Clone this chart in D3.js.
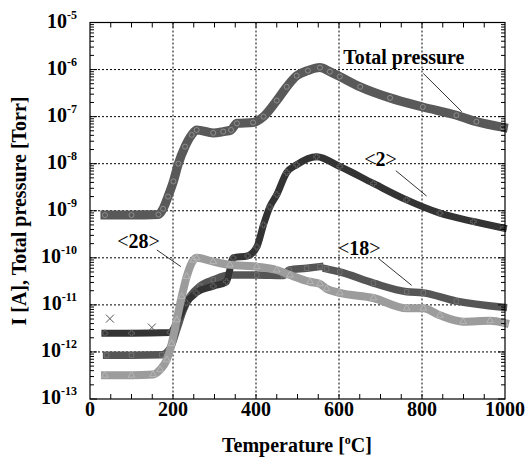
<html>
<style>
  body { margin: 0; background: #fff; }
  text { font-family: "Liberation Serif", "Times New Roman", serif; font-weight: bold; fill: #000; }
</style>
<body>
<script src="https://d3js.org/d3.v7.min.js" charset="utf-8"></script>
<svg id="chart" width="528" height="468"></svg>
<script>
// values: temperature [C] and current / pressure
var tempTotal = [36, 100, 165, 176, 188, 201, 213, 229, 245, 257, 297, 321, 340, 354, 393, 418, 450, 474, 498, 525, 554, 578, 602, 651, 723, 802, 883, 931, 996];
var totalPressure = [8.1e-10, 8.1e-10, 8.3e-10, 1.1e-9, 2.0e-9, 4.2e-9, 1.0e-8, 2.3e-8, 4.1e-8, 5.2e-8, 4.5e-8, 4.8e-8, 5.2e-8, 7.2e-8, 7.5e-8, 1.0e-7, 2.2e-7, 4.3e-7, 7.4e-7, 9.5e-7, 1.1e-6, 9.0e-7, 7.1e-7, 4.3e-7, 2.5e-7, 1.6e-7, 1.07e-7, 7.8e-8, 5.9e-8];

var tempM2 = [36, 100, 193, 212, 232, 256, 297, 329, 345, 380, 402, 418, 433, 450, 474, 498, 546, 602, 683, 763, 843, 924, 996];
var ionM2 = [2.5e-12, 2.5e-12, 2.6e-12, 4.8e-12, 1.1e-11, 1.8e-11, 2.5e-11, 3.1e-11, 1.0e-10, 1.1e-10, 1.7e-10, 5.0e-10, 1.2e-9, 2.2e-9, 6.5e-9, 9.5e-9, 1.4e-8, 8.7e-9, 3.8e-9, 1.7e-9, 8.9e-10, 5.9e-10, 4.3e-10];
// stray points of <2> at low temperature
var tempM2Stray = [48, 149];
var ionM2Stray = [5.1e-12, 3.3e-12];

// null = gap in the record
var tempM18 = [40, 100, 173, 193, 209, 225, 241, 265, 297, 337, 402, 466, 480, 522, 554, 562, 570, 602, 683, 763, 803, 883, 996];
var ionM18 = [8.5e-13, 8.5e-13, 8.7e-13, 1.2e-12, 3.0e-12, 7.8e-12, 1.5e-11, 2.5e-11, 3.4e-11, 4.3e-11, 4.3e-11, 4.2e-11, 5.5e-11, 6.0e-11, 6.5e-11, null, 5.8e-11, 5.0e-11, 2.9e-11, 1.9e-11, 1.8e-11, 1.2e-11, 8.9e-12];

var tempM28 = [36, 100, 152, 169, 185, 197, 209, 221, 233, 249, 257, 297, 337, 402, 450, 482, 530, 554, 570, 602, 683, 763, 803, 843, 899, 964, 1000];
var ionM28 = [3.2e-13, 3.2e-13, 3.3e-13, 4.2e-13, 6.8e-13, 1.5e-12, 4.8e-12, 1.5e-11, 4.0e-11, 8.9e-11, 1.0e-10, 8.3e-11, 7.1e-11, 6.5e-11, 5.5e-11, 4.3e-11, 3.1e-11, 2.8e-11, 2.2e-11, 1.8e-11, 1.4e-11, 8.5e-12, 8.5e-12, 6.0e-12, 4.4e-12, 4.6e-12, 4.1e-12];

var xTicks = [0, 200, 400, 600, 800, 1000];
var yExponents = [-5, -6, -7, -8, -9, -10, -11, -12, -13];

// labels with leader lines, in data coordinates
var notes = [
  { text: "Total pressure", t: 610, v: 1.31e-6, anchor: "start", from: [803, 8.3e-7], to: [896, 1.27e-7] },
  { text: "2", t: 700, v: 8.9e-9, anchor: "middle", from: [737, 7.1e-9], to: [811, 2.06e-9] },
  { text: "28", t: 117, v: 1.6e-10, anchor: "middle", from: [161, 1.47e-10], to: [219, 6.5e-11] },
  { text: "18", t: 649, v: 1.17e-10, anchor: "middle", from: [695, 9.7e-11], to: [775, 2.6e-11] }
];

var svg = d3.select("#chart");
svg.append("rect").attr("width", 528).attr("height", 468).attr("fill", "#fff");

var x = d3.scaleLinear().domain([0, 1000]).range([90, 505]);
var y = d3.scaleLog().domain([1e-13, 1e-5]).range([399, 22.5]);

// dotted grid
svg.selectAll(".gx").data([200, 400, 600, 800]).enter().append("line")
  .attr("x1", function(d) { return x(d); }).attr("x2", function(d) { return x(d); })
  .attr("y1", y(1e-5)).attr("y2", y(1e-13))
  .attr("stroke", "#000").attr("stroke-width", 1).attr("stroke-dasharray", "2,2");
svg.selectAll(".gy").data([-6, -7, -8, -9, -10, -11, -12]).enter().append("line")
  .attr("x1", x(0)).attr("x2", x(1000))
  .attr("y1", function(d) { return y(Math.pow(10, d)); }).attr("y2", function(d) { return y(Math.pow(10, d)); })
  .attr("stroke", "#000").attr("stroke-width", 1).attr("stroke-dasharray", "2,2");

// series
var plot = svg.append("g");
function drawSeries(temps, vals, color, width, symType, markColor) {
  var pts = temps.map(function(t, i) { return [t, vals[i]]; });
  var line = d3.line()
    .defined(function(d) { return d[1] != null; })
    .x(function(d) { return x(d[0]); })
    .y(function(d) { return y(d[1]); })
    .curve(d3.curveMonotoneX);
  plot.append("path").datum(pts).attr("d", line)
    .attr("fill", "none").attr("stroke", color).attr("stroke-width", width)
    .attr("stroke-linejoin", "round").attr("stroke-linecap", "square");
  plot.append("g").selectAll("path").data(pts.filter(function(d) { return d[1] != null; }))
    .enter().append("path")
    .attr("transform", function(d) { return "translate(" + x(d[0]) + "," + y(d[1]) + ")"; })
    .attr("d", d3.symbol().type(symType).size(20))
    .attr("fill", "none").attr("stroke", markColor).attr("stroke-width", 0.8);
}
drawSeries(tempM18, ionM18, "#555", 7.5, d3.symbolSquare, "#777");
drawSeries(tempM2, ionM2, "#333", 7, d3.symbolCross, "#666");
drawSeries(tempM28, ionM28, "#9c9c9c", 8, d3.symbolTriangle, "#bbb");
drawSeries(tempTotal, totalPressure, "#595959", 9, d3.symbolCircle, "#999");

// thin x marks for the stray points
plot.selectAll(".stray").data(tempM2Stray).enter().append("path")
  .attr("transform", function(d, i) { return "translate(" + x(d) + "," + y(ionM2Stray[i]) + ")"; })
  .attr("d", "M-4,-4L4,4M-4,4L4,-4")
  .attr("fill", "none").attr("stroke", "#444").attr("stroke-width", 0.9);

// frame
svg.append("rect").attr("x", x(0)).attr("y", y(1e-5))
  .attr("width", x(1000) - x(0)).attr("height", y(1e-13) - y(1e-5))
  .attr("fill", "none").attr("stroke", "#000").attr("stroke-width", 1.2);

// inward ticks, bottom and top every 50
var xMinor = d3.range(50, 1000, 50);
svg.selectAll(".tb").data(xMinor).enter().append("line")
  .attr("x1", function(d) { return x(d); }).attr("x2", function(d) { return x(d); })
  .attr("y1", y(1e-13)).attr("y2", y(1e-13) - 5).attr("stroke", "#000");
svg.selectAll(".tt").data(xMinor).enter().append("line")
  .attr("x1", function(d) { return x(d); }).attr("x2", function(d) { return x(d); })
  .attr("y1", y(1e-5)).attr("y2", y(1e-5) + 5).attr("stroke", "#000");

// log ticks left and right
var yTicks = [];
for (var e = -13; e < -5; e++) {
  for (var m = 1; m < 10; m++) yTicks.push({ v: m * Math.pow(10, e), major: m == 1 });
}
[x(0), x(1000)].forEach(function(x0, side) {
  var dir = side == 0 ? 1 : -1;
  svg.append("g").selectAll("line").data(yTicks).enter().append("line")
    .attr("x1", x0).attr("x2", function(d) { return x0 + dir * (d.major ? 7 : 4); })
    .attr("y1", function(d) { return y(d.v); }).attr("y2", function(d) { return y(d.v); })
    .attr("stroke", "#000").attr("stroke-width", 1);
});

// tick labels
svg.selectAll(".xl").data(xTicks).enter().append("text")
  .attr("x", function(d) { return x(d); }).attr("y", 416)
  .attr("text-anchor", "middle").attr("font-size", 20)
  .text(function(d) { return d; });

var yl = svg.selectAll(".yl").data(yExponents).enter().append("text")
  .attr("x", 77).attr("y", function(d) { return y(Math.pow(10, d)) + 5; })
  .attr("text-anchor", "end").attr("font-size", 20);
yl.append("tspan").text("10");
yl.append("tspan").attr("dy", -9).attr("font-size", 12).text(function(d) { return String(d); });

// axis titles
var xt = svg.append("text").attr("x", 297).attr("y", 452)
  .attr("text-anchor", "middle").attr("font-size", 20);
xt.append("tspan").text("Temperature [");
xt.append("tspan").attr("dy", -8).attr("font-size", 12).text("o");
xt.append("tspan").attr("dy", 8).text("C]");

svg.append("text").attr("transform", "translate(26,211) rotate(-90)")
  .attr("text-anchor", "middle").attr("font-size", 20)
  .text("I [A], Total pressure [Torr]");

// annotations
notes.forEach(function(n) {
  var t = svg.append("text").attr("x", x(n.t)).attr("y", y(n.v))
    .attr("text-anchor", n.anchor).attr("font-size", 20);
  if (n.text == "Total pressure") {
    t.text(n.text);
  } else {
    t.append("tspan").attr("font-weight", "normal").text("<");
    t.append("tspan").text(n.text);
    t.append("tspan").attr("font-weight", "normal").text(">");
  }
  svg.append("line")
    .attr("x1", x(n.from[0])).attr("y1", y(n.from[1]))
    .attr("x2", x(n.to[0])).attr("y2", y(n.to[1]))
    .attr("stroke", "#000").attr("stroke-width", 0.8);
});
</script>
</body>
</html>
